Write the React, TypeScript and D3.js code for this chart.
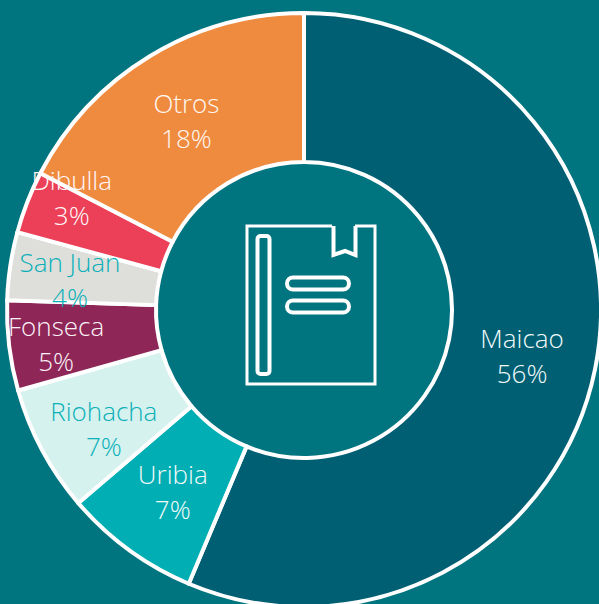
import React from "react";
import * as d3 from "d3";

const categories = ["Maicao", "Uribia", "Riohacha", "Fonseca", "San Juan", "Dibulla", "Otros"];
const values = [56.4, 7.4, 6.9, 4.9, 3.7, 3.4, 17.4];
const percentLabels = ["56%", "7%", "7%", "5%", "4%", "3%", "18%"];
const fills = ["#005F73", "#00AEB3", "#D5F2EF", "#8E2657", "#DEDFDA", "#EC3F58", "#EF8B3F"];
const textColors = ["#F2FAFA", "#F2FAFA", "#0CB0B8", "#FBF3F7", "#0CB0B8", "#FFF6F7", "#FFF8F2"];
const labelNudgeX = [0, 0, -4, -27, -14, -25, -2];
const labelNudgeY = [3, 3, 15, 8, 4, -30, 2];

const W = 599, H = 604, CX = 304, CY = 310, R = 297, r = 148;
const FONT = "'Open Sans', 'Noto Sans', sans-serif";

export default function App() {
  const pie = d3.pie<number>().value((d) => d).sort(null);
  const arcs = pie(values);
  const arc = d3.arc<d3.PieArcDatum<number>>().innerRadius(r).outerRadius(R);
  return (
    <svg width={W} height={H} viewBox={`0 0 ${W} ${H}`}
      style={{ position: "fixed", left: 0, top: 0, display: "block" }}>
      <rect width={W} height={H} fill="#00757F" />
      <g transform={`translate(${CX},${CY})`}>
        {arcs.map((a, i) => (
          <path key={i} d={arc(a) ?? ""} fill={fills[i]} stroke="#FFFFFF" strokeWidth={4} strokeLinejoin="round" />
        ))}
      </g>
      <g fill="none" stroke="#FFFFFF">
        <path d="M332 226 H247 V384 H375 V226 H355" strokeWidth={3} />
        <path d="M333.500 226 V255 L345 251 L355.500 255 V226" strokeWidth={4} />
        <rect x={257.500} y={236} width={12} height={138} rx={3} strokeWidth={4} />
        <rect x={287} y={277.500} width={62} height={12} rx={6} strokeWidth={4} />
        <rect x={287} y={300.500} width={62} height={12} rx={6} strokeWidth={4} />
      </g>
      <g transform={`translate(${CX},${CY})`} fontFamily={FONT} fontWeight={300} fontSize={26} textAnchor="middle">
        {arcs.map((a, i) => {
          const [x, y] = arc.centroid(a);
          const lx = x + labelNudgeX[i], ly = y + labelNudgeY[i];
          return (
            <g key={i} fill={textColors[i]}>
              <text x={lx} y={ly - 9}>{categories[i]}</text>
              <text x={lx} y={ly + 26}>{percentLabels[i]}</text>
            </g>
          );
        })}
      </g>
    </svg>
  );
}
